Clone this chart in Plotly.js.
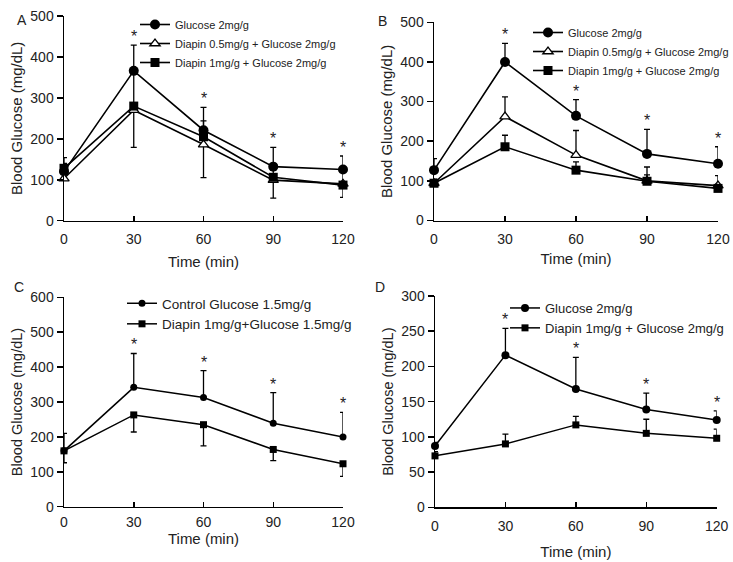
<!DOCTYPE html>
<html>
<head>
<meta charset="utf-8">
<script src="https://cdn.plot.ly/plotly-3.0.1.min.js"></script>
<style>html,body{margin:0;padding:0;background:#fff;overflow:hidden;}#wrap{width:733px;height:562px;overflow:hidden;}#chart{width:760px;height:562px;}</style>
</head>
<body>
<div id="wrap"><div id="chart"></div></div>
<script>
// ---------- data ----------
const timeMin = [0, 30, 60, 90, 120];

// Panel A
const aGlucose = [120, 366, 221, 132, 125];
const aGlucoseErr = [34, 63, 56, 47, 33];
const aDiapin05 = [103, 270, 186, 99, 90];
const aDiapin05ErrMinus = [0, 91, 81, 44, 33];
const aDiapin1 = [128, 280, 205, 106, 87];
const aDiapin1Err = [12, 86, 39, 26, 38];

// Panel B
const bGlucose = [127, 400, 264, 168, 143];
const bGlucoseErr = [29, 47, 41, 62, 43];
const bDiapin05 = [94, 262, 165, 100, 88];
const bDiapin05Err = [10, 50, 62, 35, 25];
const bDiapin1 = [94, 186, 127, 99, 81];
const bDiapin1Err = [8, 29, 21, 16, 10];

// Panel C
const cControl = [160, 342, 313, 239, 200];
const cControlErr = [50, 97, 77, 88, 70];
const cDiapin = [160, 263, 235, 164, 123];
const cDiapinErrMinus = [34, 49, 61, 32, 36];

// Panel D
const dGlucose = [87, 216, 168, 139, 124];
const dGlucoseErr = [5, 38, 45, 23, 13];
const dDiapin = [73, 90, 117, 105, 98];
const dDiapinErr = [6, 14, 12, 20, 13];

const starIdx = [1, 2, 3, 4];

// ---------- helpers ----------
const FONT = 'Liberation Sans, Arial, sans-serif';

function hasFont(name) {
  const ctx = document.createElement('canvas').getContext('2d');
  const s = 'Diapin 0.5mg/g + Glucose 2mg/g';
  ctx.font = '40px monospace';
  const w1 = ctx.measureText(s).width;
  ctx.font = "40px '" + name + "', monospace";
  return ctx.measureText(s).width !== w1;
}
const narrowOK = hasFont('Liberation Sans Narrow');
const NARROW = narrowOK ? "'Liberation Sans Narrow', Liberation Sans, sans-serif" : FONT;
const NARROW_SIZE = narrowOK ? 13 : 11;

const zeros = timeMin.map(() => 0);

function series(name, y, plus, minus, sym, size, xa, ya, leg, lw) {
  const filled = sym !== 'triangle-up';
  return {
    type: 'scatter', mode: 'lines+markers', name: name,
    x: timeMin, y: y, xaxis: xa, yaxis: ya, legend: leg, cliponaxis: false,
    line: {color: 'black', width: lw},
    marker: {symbol: sym, size: size, color: filled ? 'black' : 'white',
             line: {color: 'black', width: filled ? 0 : 1.3}},
    error_y: {type: 'data', symmetric: false, array: plus, arrayminus: minus,
              color: 'black', thickness: 1.3, width: 3}
  };
}

const data = [
  series('Glucose 2mg/g', aGlucose, aGlucoseErr, zeros, 'circle', 10, 'x', 'y', 'legend', 1.6),
  series('Diapin 0.5mg/g + Glucose 2mg/g', aDiapin05, zeros, aDiapin05ErrMinus, 'triangle-up', 9, 'x', 'y', 'legend', 1.6),
  series('Diapin 1mg/g + Glucose 2mg/g', aDiapin1, aDiapin1Err, zeros, 'square', 9, 'x', 'y', 'legend', 1.6),

  series('Glucose 2mg/g', bGlucose, bGlucoseErr, zeros, 'circle', 10, 'x2', 'y2', 'legend2', 1.6),
  series('Diapin 0.5mg/g + Glucose 2mg/g', bDiapin05, bDiapin05Err, zeros, 'triangle-up', 9, 'x2', 'y2', 'legend2', 1.6),
  series('Diapin 1mg/g + Glucose 2mg/g', bDiapin1, bDiapin1Err, zeros, 'square', 9, 'x2', 'y2', 'legend2', 1.6),

  series('Control Glucose 1.5mg/g', cControl, cControlErr, zeros, 'circle', 7, 'x3', 'y3', 'legend3', 1.5),
  series('Diapin 1mg/g+Glucose 1.5mg/g', cDiapin, zeros, cDiapinErrMinus, 'square', 7, 'x3', 'y3', 'legend3', 1.5),

  series('Glucose 2mg/g', dGlucose, dGlucoseErr, zeros, 'circle', 8, 'x4', 'y4', 'legend4', 1.5),
  series('Diapin 1mg/g + Glucose 2mg/g', dDiapin, dDiapinErr, zeros, 'square', 7, 'x4', 'y4', 'legend4', 1.5)
];

function xAxis(domain, anchor, standoff, labelOff) {
  return {
    domain: domain, anchor: anchor, range: [0, 120], tickvals: timeMin,
    ticks: 'inside', ticklen: 5, tickwidth: 1.5, tickcolor: 'black',
    ticklabelstandoff: labelOff,
    showline: true, linecolor: 'black', linewidth: 1.5,
    showgrid: false, zeroline: false, automargin: false, fixedrange: true,
    tickfont: {family: FONT, size: 14, color: '#222'},
    title: {text: 'Time (min)', font: {family: FONT, size: 15, color: '#222'}, standoff: standoff}
  };
}
function yAxis(domain, anchor, maxV, dtick, standoff, fs) {
  return {
    domain: domain, anchor: anchor, range: [0, maxV], dtick: dtick,
    ticks: 'outside', ticklen: 6, tickwidth: 1.5, tickcolor: 'black',
    showline: true, linecolor: 'black', linewidth: 1.5,
    showgrid: false, zeroline: false, automargin: false, fixedrange: true,
    tickfont: {family: FONT, size: 14, color: '#222'},
    title: {text: 'Blood Glucose (mg/dL)', font: {family: FONT, size: fs, color: '#222'}, standoff: standoff}
  };
}

const W = 760, H = 562;
const px = v => v / W;
const py = v => 1 - v / H;

function legend(leftPx, topPx, family, size) {
  return {x: px(leftPx), y: py(topPx), xanchor: 'left', yanchor: 'top',
          bgcolor: 'rgba(0,0,0,0)', borderwidth: 0,
          font: {family: family, size: size, color: '#222'}, tracegroupgap: 0};
}

// stars above the highest whisker at each marked time
function stars(xa, ya, groups) {
  return starIdx.map(i => {
    const top = Math.max(...groups.map(g => g[0][i] + g[1][i]));
    return {x: timeMin[i], y: top, xref: xa, yref: ya, text: '*', showarrow: false,
            yanchor: 'bottom', yshift: -2, font: {family: FONT, size: 16, color: '#222'}};
  });
}

const annotations = [].concat(
  stars('x', 'y', [[aGlucose, aGlucoseErr]]),
  stars('x2', 'y2', [[bGlucose, bGlucoseErr], [bDiapin05, bDiapin05Err]]),
  stars('x3', 'y3', [[cControl, cControlErr]]),
  stars('x4', 'y4', [[dGlucose, dGlucoseErr]]),
  [
    {text: 'A', x: px(15), y: py(10), xref: 'paper', yref: 'paper', showarrow: false, font: {family: FONT, size: 14, color: '#222'}},
    {text: 'B', x: px(383), y: py(11), xref: 'paper', yref: 'paper', showarrow: false, font: {family: FONT, size: 14, color: '#222'}},
    {text: 'C', x: px(12), y: py(287), xref: 'paper', yref: 'paper', showarrow: false, font: {family: FONT, size: 14, color: '#222'}},
    {text: 'D', x: px(380), y: py(287), xref: 'paper', yref: 'paper', showarrow: false, font: {family: FONT, size: 14, color: '#222'}}
  ]
);

const layout = {
  width: W, height: H, margin: {l: 0, r: 0, t: 0, b: 0},
  paper_bgcolor: 'white', plot_bgcolor: 'white', showlegend: true,
  font: {family: FONT, color: '#222'},
  xaxis: xAxis([px(64), px(343)], 'y', 10, 5),
  yaxis: yAxis([py(220.7), py(16)], 'x', 500, 100, 4, 15),
  xaxis2: xAxis([px(434), px(718)], 'y2', 7, 5),
  yaxis2: yAxis([py(220.5), py(22.3)], 'x2', 500, 100, 4, 15),
  xaxis3: xAxis([px(64), px(343)], 'y3', 0, 2),
  yaxis3: yAxis([py(506.7), py(297.3)], 'x3', 600, 100, 4, 14.5),
  xaxis4: xAxis([px(435), px(716.7)], 'y4', 14, 5),
  yaxis4: yAxis([py(507.3), py(296)], 'x4', 300, 50, 4, 14.5),
  legend: legend(135, 10, NARROW, NARROW_SIZE),
  legend2: legend(528, 18, NARROW, NARROW_SIZE),
  legend3: legend(122, 288, FONT, 13.5),
  legend4: legend(505, 293, FONT, 13),
  annotations: annotations
};

Plotly.newPlot('chart', data, layout, {displayModeBar: false, staticPlot: true});
</script>
</body>
</html>
